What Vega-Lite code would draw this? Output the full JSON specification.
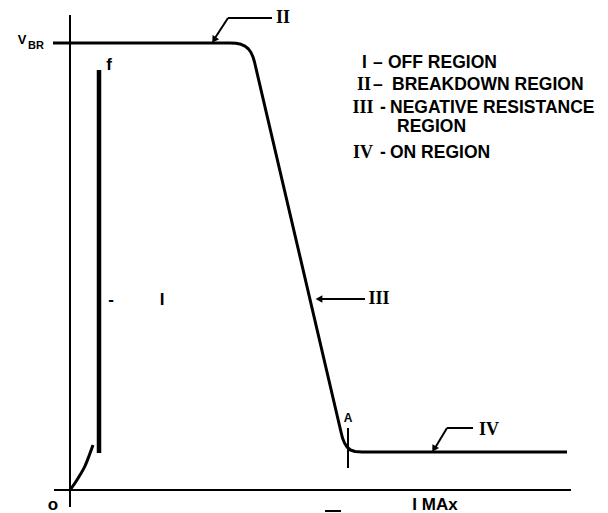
{
  "$schema": "https://vega.github.io/schema/vega-lite/v6.json",
  "width": 608,
  "height": 513,
  "padding": 0,
  "autosize": {"type": "fit", "contains": "padding"},
  "background": "white",
  "config": {"view": {"stroke": null}},
  "datasets": {
    "curve": [
      {"i": -17, "v": 447, "o": 1},
      {"i": 160, "v": 447, "o": 2},
      {"i": 166, "v": 446.7, "o": 3},
      {"i": 171, "v": 445.7, "o": 4},
      {"i": 175, "v": 443.8, "o": 5},
      {"i": 178.5, "v": 441, "o": 6},
      {"i": 181, "v": 437.5, "o": 7},
      {"i": 183, "v": 433, "o": 8},
      {"i": 184.5, "v": 428, "o": 9},
      {"i": 271, "v": 58, "o": 10},
      {"i": 272.5, "v": 52, "o": 11},
      {"i": 274.5, "v": 47, "o": 12},
      {"i": 277, "v": 43, "o": 13},
      {"i": 280.5, "v": 40, "o": 14},
      {"i": 285, "v": 38.5, "o": 15},
      {"i": 292, "v": 38, "o": 16},
      {"i": 497, "v": 38, "o": 17}
    ],
    "onset": [
      {"i": 0, "v": 0, "o": 1},
      {"i": 5, "v": 7, "o": 2},
      {"i": 10, "v": 15, "o": 3},
      {"i": 15, "v": 24, "o": 4},
      {"i": 19, "v": 34, "o": 5},
      {"i": 23, "v": 45, "o": 6}
    ],
    "thin": [
      {"name": "yaxis", "i": 0, "v": -17, "i2": 0, "v2": 475},
      {"name": "xaxis", "i": -16, "v": 0, "i2": 501, "v2": 0},
      {"name": "A", "i": 278, "v": 22, "i2": 278, "v2": 62},
      {"name": "IIh", "i": 158, "v": 472, "i2": 202, "v2": 472},
      {"name": "IId", "i": 158, "v": 472, "i2": 145, "v2": 452},
      {"name": "IIIh", "i": 250, "v": 191, "i2": 295, "v2": 191},
      {"name": "IVh", "i": 377, "v": 62, "i2": 403, "v2": 62},
      {"name": "IVd", "i": 377, "v": 62, "i2": 365, "v2": 42},
      {"name": "under", "i": 255, "v": -21, "i2": 271, "v2": -21}
    ],
    "bar": [
      {"i": 29, "v": 37, "i2": 29, "v2": 420}
    ],
    "arrows": [
      {"name": "II", "i": 144, "v": 450},
      {"name": "III", "i": 249, "v": 191},
      {"name": "IV", "i": 364, "v": 41}
    ],
    "legend": [
      {"t": "I", "i": 292, "v": 427},
      {"t": "–", "i": 303, "v": 427},
      {"t": "OFF REGION", "i": 318, "v": 427},
      {"t": "–", "i": 303, "v": 405},
      {"t": "BREAKDOWN REGION", "i": 322, "v": 405},
      {"t": "-", "i": 310, "v": 382},
      {"t": "NEGATIVE RESISTANCE", "i": 320, "v": 382},
      {"t": "REGION", "i": 327, "v": 363},
      {"t": "-", "i": 310, "v": 337},
      {"t": "ON REGION", "i": 320, "v": 337}
    ],
    "numerals": [
      {"t": "II", "i": 294, "v": 405},
      {"t": "III", "i": 293, "v": 382},
      {"t": "IV", "i": 293, "v": 337},
      {"t": "II", "i": 213, "v": 472},
      {"t": "III", "i": 309, "v": 191},
      {"t": "IV", "i": 419, "v": 60}
    ],
    "labels": [
      {"t": "f", "i": 39, "v": 425},
      {"t": "-", "i": 41, "v": 190},
      {"t": "I", "i": 92, "v": 190},
      {"t": "o", "i": -17, "v": -15},
      {"t": "I MAx", "i": 365, "v": -15}
    ]
  },
  "encoding": {
    "x": {"field": "i", "type": "quantitative", "scale": {"domain": [-70, 538]}, "axis": null},
    "y": {"field": "v", "type": "quantitative", "scale": {"domain": [-23, 490]}, "axis": null}
  },
  "layer": [
    {
      "data": {"name": "thin"},
      "mark": {"type": "rule", "color": "black", "strokeWidth": 2},
      "encoding": {"x2": {"field": "i2"}, "y2": {"field": "v2"}}
    },
    {
      "data": {"name": "bar"},
      "mark": {"type": "rule", "color": "black", "strokeWidth": 4.5},
      "encoding": {"x2": {"field": "i2"}, "y2": {"field": "v2"}}
    },
    {
      "data": {"name": "curve"},
      "mark": {"type": "line", "color": "black", "strokeWidth": 3, "interpolate": "linear", "strokeJoin": "round"},
      "encoding": {"order": {"field": "o", "type": "quantitative"}}
    },
    {
      "data": {"name": "onset"},
      "mark": {"type": "line", "color": "black", "strokeWidth": 3, "interpolate": "monotone"},
      "encoding": {"order": {"field": "o", "type": "quantitative"}}
    },
    {
      "data": {"name": "arrows"},
      "transform": [{"filter": "datum.name === 'II'"}],
      "mark": {"type": "point", "shape": "triangle-up", "filled": true, "color": "black", "size": 60, "angle": 213, "opacity": 1}
    },
    {
      "data": {"name": "arrows"},
      "transform": [{"filter": "datum.name === 'III'"}],
      "mark": {"type": "point", "shape": "triangle-up", "filled": true, "color": "black", "size": 60, "angle": 270, "opacity": 1}
    },
    {
      "data": {"name": "arrows"},
      "transform": [{"filter": "datum.name === 'IV'"}],
      "mark": {"type": "point", "shape": "triangle-up", "filled": true, "color": "black", "size": 60, "angle": 211, "opacity": 1}
    },
    {
      "data": {"name": "legend"},
      "mark": {"type": "text", "align": "left", "baseline": "middle", "font": "Liberation Sans", "fontWeight": "bold", "fontSize": 17.5, "color": "black"},
      "encoding": {"text": {"field": "t"}}
    },
    {
      "data": {"name": "numerals"},
      "mark": {"type": "text", "align": "center", "baseline": "middle", "font": "Liberation Serif", "fontWeight": "bold", "fontSize": 18, "color": "black"},
      "encoding": {"text": {"field": "t"}}
    },
    {
      "data": {"name": "labels"},
      "mark": {"type": "text", "align": "center", "baseline": "middle", "font": "Liberation Sans", "fontWeight": "bold", "fontSize": 17, "color": "black"},
      "encoding": {"text": {"field": "t"}}
    },
    {
      "data": {"values": [{"t": "A", "i": 278, "v": 72}]},
      "mark": {"type": "text", "align": "center", "baseline": "middle", "font": "Liberation Sans", "fontWeight": "bold", "fontSize": 12, "color": "black"},
      "encoding": {"text": {"field": "t"}}
    },
    {
      "data": {"values": [{"t": "V", "i": -48, "v": 450}]},
      "mark": {"type": "text", "align": "center", "baseline": "middle", "font": "Liberation Sans", "fontWeight": "bold", "fontSize": 13, "color": "black"},
      "encoding": {"text": {"field": "t"}}
    },
    {
      "data": {"values": [{"t": "BR", "i": -34, "v": 444}]},
      "mark": {"type": "text", "align": "center", "baseline": "middle", "font": "Liberation Sans", "fontWeight": "bold", "fontSize": 11, "color": "black"},
      "encoding": {"text": {"field": "t"}}
    }
  ]
}
